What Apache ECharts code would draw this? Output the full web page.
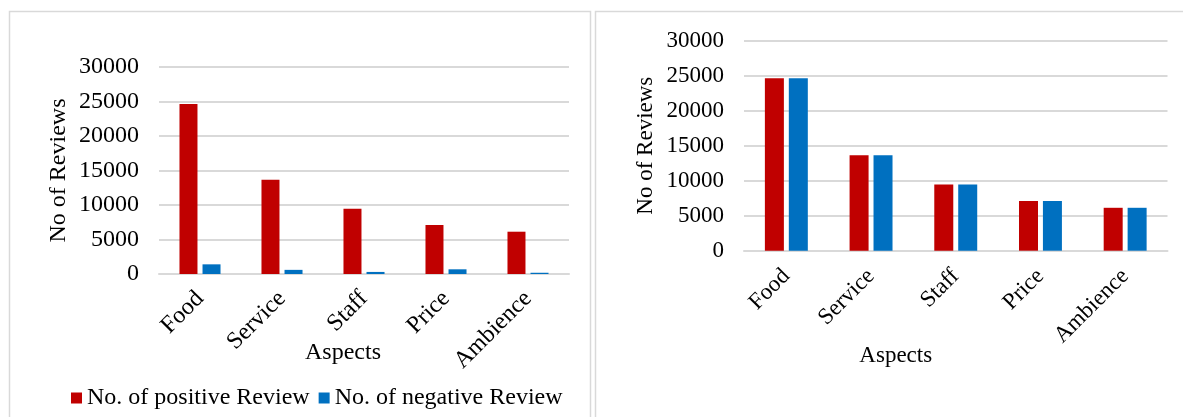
<!DOCTYPE html>
<html>
<head>
<meta charset="utf-8">
<script src="https://cdn.jsdelivr.net/npm/echarts@6/dist/echarts.min.js"></script>
<style>
  html, body { margin: 0; padding: 0; background: #fff; }
  #chart { width: 1183px; height: 417px; }
</style>
</head>
<body>
<div id="chart"></div>
<script>
// Review counts per aspect
const aspects = ['Food', 'Service', 'Staff', 'Price', 'Ambience'];
const leftPositive = [24650, 13650, 9450, 7100, 6130];
const leftNegative = [1400, 600, 300, 680, 180];
const rightPositive = [24650, 13650, 9450, 7100, 6130];
const rightNegative = [24650, 13650, 9450, 7100, 6130];
const seriesNames = ['No. of positive Review', 'No. of negative Review'];

const RED = '#C00000';
const BLUE = '#0070C0';
const GRID = '#d9d9d9';
const FONT = 'Liberation Serif, Times New Roman, serif';

function xAxisFor(gridIndex, fontSize, nameGap, shift, labelMargin) {
  return {
    type: 'category',
    gridIndex: gridIndex,
    data: aspects,
    name: 'Aspects',
    nameLocation: 'middle',
    nameGap: nameGap,
    nameMoveOverlap: false,
    nameTextStyle: { fontFamily: FONT, fontSize: fontSize, color: '#000', padding: [0, shift * 2, 0, 0] },
    axisLine: { lineStyle: { color: GRID, width: 2 } },
    axisTick: { show: false },
    axisLabel: { rotate: 45, margin: labelMargin, fontFamily: FONT, fontSize: fontSize, color: '#000', interval: 0 }
  };
}

function yAxisFor(gridIndex, fontSize, nameGap) {
  return {
    type: 'value',
    gridIndex: gridIndex,
    min: 0,
    max: 30000,
    interval: 5000,
    name: 'No of Reviews',
    nameLocation: 'middle',
    nameGap: nameGap,
    nameMoveOverlap: false,
    nameTextStyle: { fontFamily: FONT, fontSize: fontSize, color: '#000' },
    axisLine: { show: false },
    axisTick: { show: false },
    axisLabel: { margin: 20, fontFamily: FONT, fontSize: fontSize, color: '#000', formatter: v => String(v) },
    splitLine: { lineStyle: { color: GRID, width: 2 } }
  };
}

function barSeries(name, data, color, axisIndex, width, gap) {
  return {
    name: name,
    type: 'bar',
    xAxisIndex: axisIndex,
    yAxisIndex: axisIndex,
    data: data,
    barWidth: width,
    barGap: gap,
    itemStyle: { color: color },
    emphasis: { disabled: true }
  };
}

const chart = echarts.init(document.getElementById('chart'), null, { renderer: 'canvas' });
chart.setOption({
  animation: false,
  backgroundColor: '#fff',
  graphic: [
    { type: 'rect', shape: { x: 9.5, y: 11.5, width: 581, height: 430 }, style: { fill: 'none', stroke: GRID, lineWidth: 1.5 }, silent: true },
    { type: 'rect', shape: { x: 595.5, y: 11.5, width: 620, height: 430 }, style: { fill: 'none', stroke: GRID, lineWidth: 1.5 }, silent: true }
  ],
  grid: [
    { left: 159, right: 614, top: 67, bottom: 143 },
    { left: 744, right: 15.5, top: 40.7, bottom: 166.3 }
  ],
  legend: {
    data: seriesNames,
    left: 66,
    top: 381,
    itemWidth: 11,
    itemHeight: 11,
    itemGap: 9,
    icon: 'rect',
    selectedMode: false,
    textStyle: { fontFamily: FONT, fontSize: 24, color: '#000' }
  },
  xAxis: [xAxisFor(0, 24, 67, 21, 21), xAxisFor(1, 23, 94, 60, 22)],
  yAxis: [yAxisFor(0, 24, 88), yAxisFor(1, 23, 87)],
  series: [
    barSeries(seriesNames[0], leftPositive, RED, 0, 18, '28%'),
    barSeries(seriesNames[1], leftNegative, BLUE, 0, 18, '28%'),
    barSeries(seriesNames[0], rightPositive, RED, 1, 19, '26%'),
    barSeries(seriesNames[1], rightNegative, BLUE, 1, 19, '26%')
  ]
});
</script>
</body>
</html>
